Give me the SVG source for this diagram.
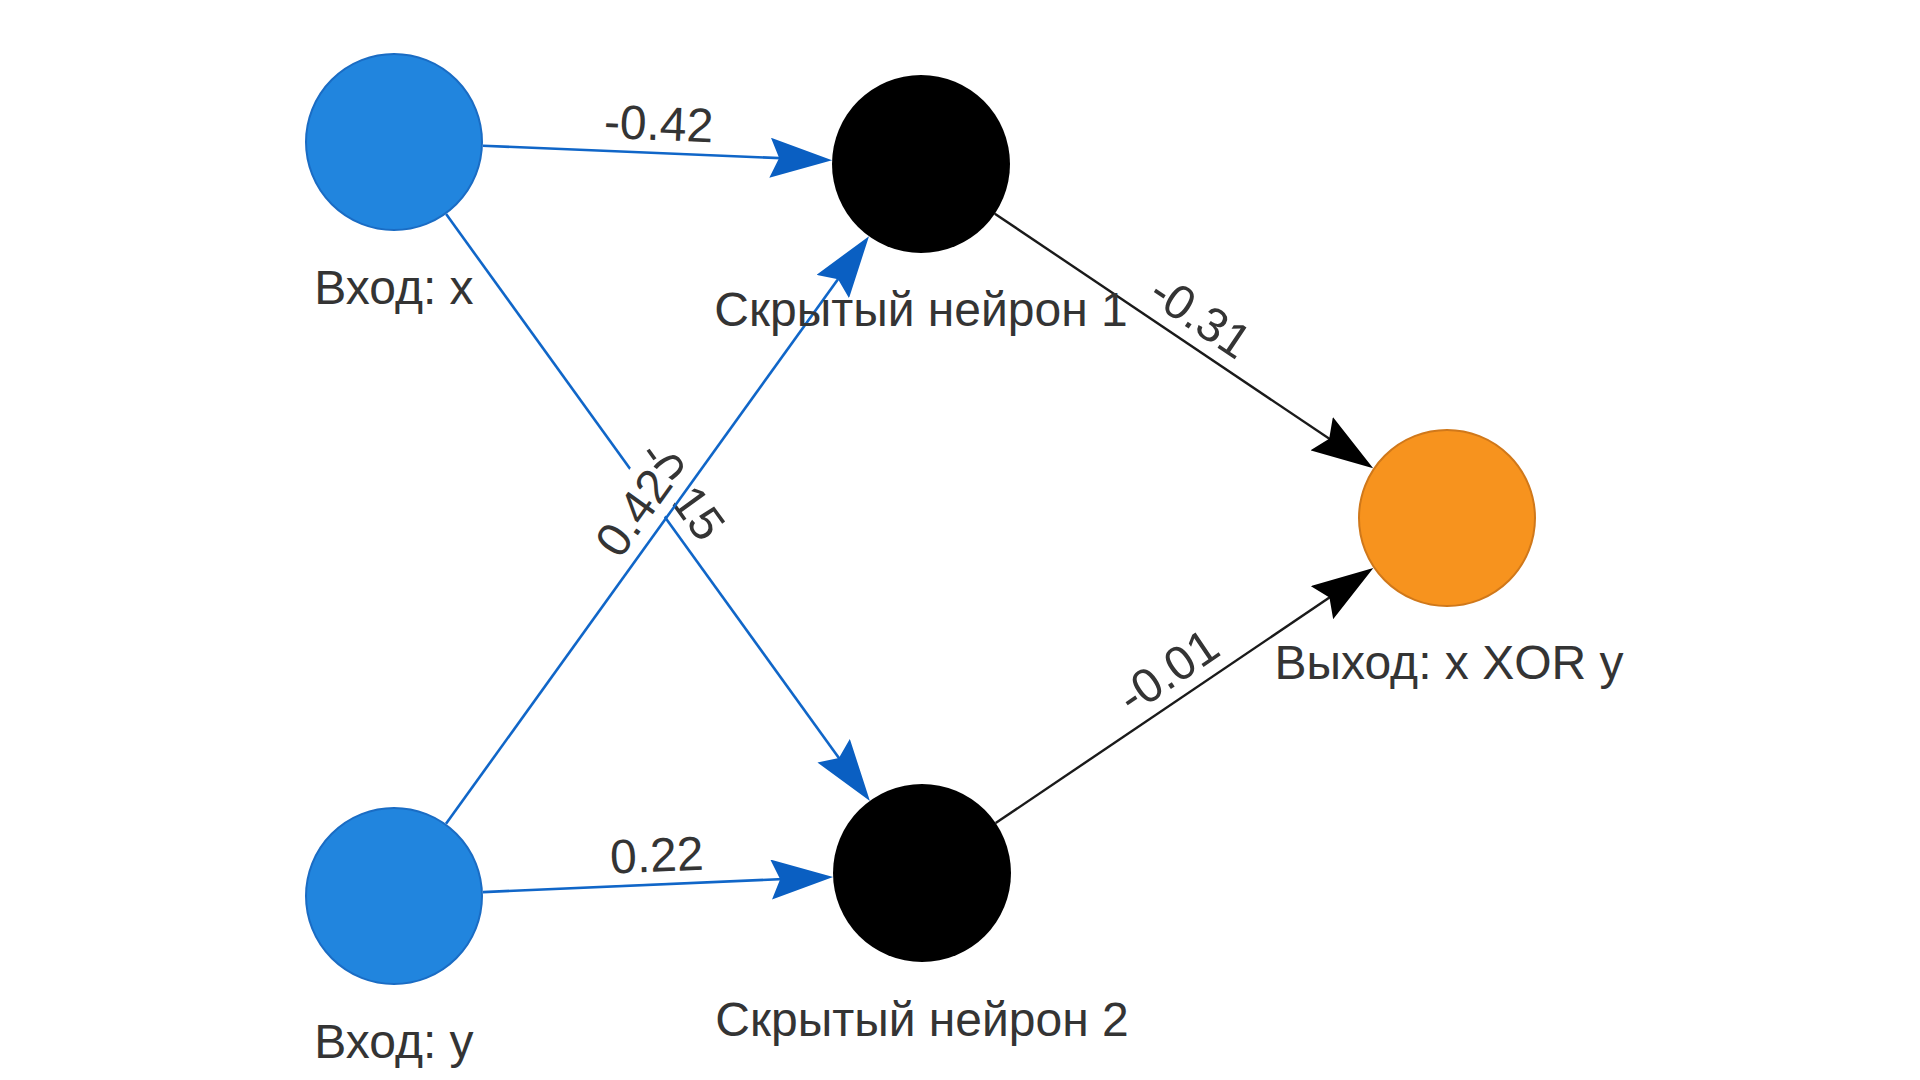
<svg xmlns="http://www.w3.org/2000/svg" width="1920" height="1080" viewBox="0 0 1920 1080">
  <style>
    .lbl { font-family: "Liberation Sans", Arial, sans-serif; font-size: 48px; fill: #343434; text-anchor: middle; }
    .blue-edge { stroke: #1066c8; stroke-width: 2.6; fill: none; marker-end: url(#arrow-blue); }
    .black-edge { stroke: #1a1a1a; stroke-width: 2.4; fill: none; marker-end: url(#arrow-black); }
    .bg { fill: #ffffff; }
    .in { fill: #2185de; stroke: #1a6cc4; stroke-width: 2; }
    .hid { fill: #000000; }
    .out { fill: #f7931e; stroke: #d0781a; stroke-width: 2; }
  </style>
  <defs>
    <marker id="arrow-blue" markerUnits="userSpaceOnUse" viewBox="0 0 62 40" refX="50" refY="20" markerWidth="62" markerHeight="40" orient="auto">
      <path d="M62,20 L0,0 L9,20 L0,40 Z" fill="#0a5fc2"/>
    </marker>
    <marker id="arrow-black" markerUnits="userSpaceOnUse" viewBox="0 0 62 40" refX="50" refY="20" markerWidth="62" markerHeight="40" orient="auto">
      <path d="M62,20 L0,0 L9,20 L0,40 Z" fill="#000000"/>
    </marker>
  </defs>
  <rect width="1920" height="1080" fill="#ffffff"/>

  <g id="connectors">
    <g id="edge-x-h1">
      <line class="blue-edge" x1="482.9" y1="145.7" x2="820.1" y2="159.8"/>
      <g transform="translate(657.5,153) rotate(2.39)">
        <rect class="bg" x="-57" y="-58" width="114" height="56"/>
        <text class="lbl" x="0" y="-13">-0.42</text>
      </g>
    </g>
    <g id="edge-y-h2">
      <line class="blue-edge" x1="482.9" y1="892.1" x2="821.1" y2="877.4"/>
      <g transform="translate(658,884.5) rotate(-2.49)">
        <rect class="bg" x="-49" y="-58" width="98" height="56"/>
        <text class="lbl" x="0" y="-13">0.22</text>
      </g>
    </g>
    <g id="edge-x-h2">
      <line class="blue-edge" x1="446.1" y1="214.1" x2="862.9" y2="791.2"/>
      <g transform="translate(658,507.5) rotate(54.16)">
        <rect class="bg" x="-57" y="-58" width="114" height="56"/>
        <text class="lbl" x="0" y="-13">-0.15</text>
      </g>
    </g>
    <g id="edge-y-h1">
      <line class="blue-edge" x1="446.0" y1="823.8" x2="862.0" y2="245.9"/>
      <g transform="translate(657.5,530) rotate(-54.24)">
        <rect class="bg" x="-49" y="-58" width="98" height="56"/>
        <text class="lbl" x="0" y="-13">0.42</text>
      </g>
    </g>
    <g id="edge-h1-out">
      <line class="black-edge" x1="994.8" y1="213.7" x2="1363.2" y2="461.6"/>
      <g transform="translate(1184,341) rotate(33.94)">
        <rect class="bg" x="-57" y="-58" width="114" height="56"/>
        <text class="lbl" x="0" y="-13">-0.31</text>
      </g>
    </g>
    <g id="edge-h2-out">
      <line class="black-edge" x1="995.7" y1="823.1" x2="1363.4" y2="574.6"/>
      <g transform="translate(1184.5,695.5) rotate(-34.07)">
        <rect class="bg" x="-57" y="-58" width="114" height="56"/>
        <text class="lbl" x="0" y="-13">-0.01</text>
      </g>
    </g>
  </g>

  <g id="node-input-x">
    <circle class="in" cx="394" cy="142" r="88"/>
    <text class="lbl" x="394" y="304">Вход: x</text>
  </g>
  <g id="node-input-y">
    <circle class="in" cx="394" cy="896" r="88"/>
    <text class="lbl" x="394" y="1058">Вход: y</text>
  </g>
  <g id="node-hidden-1">
    <circle class="hid" cx="921" cy="164" r="89"/>
    <text class="lbl" x="921" y="326">Скрытый нейрон 1</text>
  </g>
  <g id="node-hidden-2">
    <circle class="hid" cx="922" cy="873" r="89"/>
    <text class="lbl" x="922" y="1036">Скрытый нейрон 2</text>
  </g>
  <g id="node-output">
    <circle class="out" cx="1447" cy="518" r="88"/>
    <text class="lbl" x="1449" y="679">Выход: x XOR y</text>
  </g>
</svg>
